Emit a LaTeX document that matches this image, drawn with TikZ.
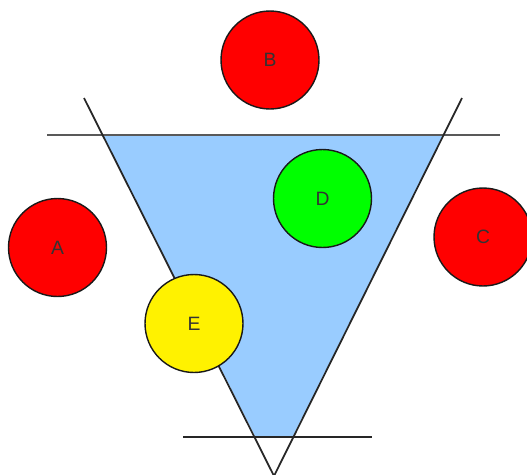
\documentclass[tikz,border=0pt]{standalone}
\usepackage{fontspec}
\setmainfont{Liberation Sans}
\definecolor{water}{HTML}{99CCFF}
\begin{document}
\begin{tikzpicture}[
x=0.02cm,y=-0.02cm,
ball/.style={circle,draw=black!90,line width=0.8pt,minimum size=1.96cm,inner sep=0pt,
  text=black!80,font=\fontsize{11}{13}\selectfont},
rim/.style={draw=black!65,line width=1.2pt},
side/.style={draw=black!85,line width=1pt}
]
\clip (0,0) rectangle (527,474);
\useasboundingbox (0,0) rectangle (527,474);
% glass
\coordinate (lefttop) at (84,98);
\coordinate (righttop) at (462,98);
\coordinate (tip) at (274,476);
\fill[water] (103,135) -- (443.5,135) -- (292.5,437) -- (255.5,437) -- cycle;
\coordinate (topl) at (47,135);
\coordinate (topr) at (500,135);
\coordinate (botl) at (183,437);
\coordinate (botr) at (372,437);
\draw[rim] (topl) -- (topr);
\draw[rim,draw=black!85] (botl) -- (botr);
\draw[side] (lefttop) -- (tip) -- (righttop);
% balls
\node[ball,fill=red] (B) at (270,60) {B};
\node[ball,fill=red] (A) at (57.5,247.5) {A};
\node[ball,fill=red] (C) at (483,237) {C};
\node[ball,fill=green] (D) at (322.5,198.5) {D};
\node[ball,fill=yellow] (E) at (194,323.5) {E};
\end{tikzpicture}
\end{document}
